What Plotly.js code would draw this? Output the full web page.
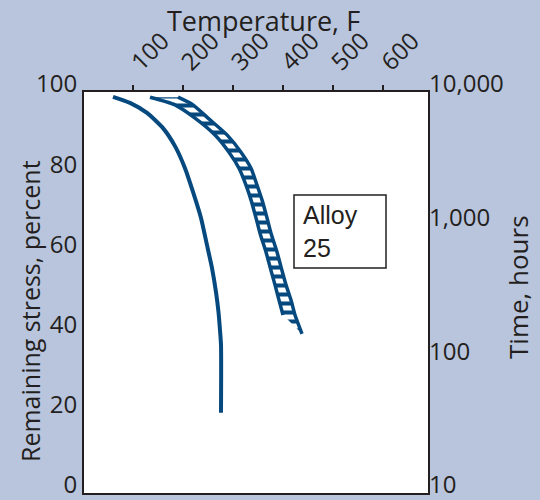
<!DOCTYPE html>
<html>
<head>
<meta charset="utf-8">
<script src="https://cdn.plot.ly/plotly-3.0.1.min.js"></script>
<style>html,body{margin:0;padding:0;background:#b9c5dc;}#chart{width:540px;height:500px;}</style>
</head>
<body>
<div id="chart"></div>
<script>
// Temperature (F) vs remaining stress (percent)
const curveTemp   = [60, 94, 128, 160, 184, 204, 220, 236, 248, 258, 266, 271, 274, 276, 276];
const curveStress = [98.8, 97.3, 94.8, 91.0, 86.5, 81.0, 75.1, 68.6, 61.8, 56.1, 50.1, 45.1, 40.6, 37.0, 20.0];

// Alloy 25 band: inner (left) edge and outer (right) edge
const innerTemp   = [134, 184, 224, 264, 292, 312, 326, 336, 346, 354, 366, 374, 384, 392, 400];
const innerStress = [98.7, 96.8, 93.5, 89.3, 85.0, 81.0, 76.8, 73.1, 68.6, 64.8, 60.1, 56.4, 51.9, 48.1, 44.4];
const outerTemp   = [190, 220, 250, 288, 316, 336, 348, 358, 368, 376, 388, 396, 406, 416, 424, 438];
const outerStress = [98.7, 96.8, 93.5, 89.3, 85.0, 81.0, 76.8, 73.1, 68.6, 64.8, 60.1, 56.4, 51.9, 48.1, 44.4, 39.7];

const tempTicks = [100, 200, 300, 400, 500, 600];
const stressTicks = [0, 20, 40, 60, 80, 100];
const timeTicks = [10, 100, 1000, 10000];
const timeTickText = ['10', '100', '1,000', '10,000'];

const navy = '#06497f';
const ink = '#231f20';
const font = 'Open Sans, Noto Sans, sans-serif';

const bandX = innerTemp.concat(outerTemp.slice().reverse());
const bandY = innerStress.concat(outerStress.slice().reverse());

const traces = [
  {x: bandX, y: bandY, mode: 'lines', fill: 'toself', line: {width: 0, color: navy},
   fillcolor: 'white',
   fillpattern: {shape: '-', fgcolor: navy, bgcolor: 'white', size: 9, solidity: 0.45},
   hoverinfo: 'skip', showlegend: false},
  {x: innerTemp, y: innerStress, mode: 'lines', line: {width: 3.5, color: navy, shape: 'spline', smoothing: 0.6}, showlegend: false},
  {x: outerTemp, y: outerStress, mode: 'lines', line: {width: 3.5, color: navy, shape: 'spline', smoothing: 0.6}, showlegend: false},
  {x: curveTemp, y: curveStress, mode: 'lines', line: {width: 4, color: navy, shape: 'spline', smoothing: 0.6}, showlegend: false},
  {x: [], y: [], yaxis: 'y2', mode: 'lines', showlegend: false}
];

const layout = {
  width: 540, height: 500,
  margin: {l: 84, r: 112, t: 92, b: 7},
  paper_bgcolor: '#b9c5dc',
  plot_bgcolor: 'white',
  showlegend: false,
  font: {family: font, color: ink},
  xaxis: {
    side: 'top', range: [2, 690], tickvals: tempTicks, tickangle: -45,
    ticks: 'outside', ticklen: 5, tickwidth: 1.5, tickcolor: ink,
    showline: true, mirror: true, linecolor: ink, linewidth: 2,
    showgrid: false, zeroline: false,
    tickfont: {size: 24, family: font, color: ink}
  },
  yaxis: {
    range: [0, 100], tickvals: stressTicks, ticks: '',
    showline: true, mirror: true, linecolor: ink, linewidth: 2,
    showgrid: false, zeroline: false, ticklabeloverflow: 'allow', ticklabelshift: -8,
    tickfont: {size: 24, family: font, color: ink}
  },
  yaxis2: {
    type: 'log', range: [1, 4], overlaying: 'y', side: 'right',
    tickvals: timeTicks, ticktext: timeTickText, ticks: '',
    showline: false, showgrid: false, zeroline: false, ticklabeloverflow: 'allow', ticklabelshift: -8,
    tickfont: {size: 24, family: font, color: ink}
  },
  shapes: [
    {type: 'rect', xref: 'x', yref: 'y', x0: 422, x1: 606, y0: 56.1, y1: 74.3,
     line: {color: ink, width: 1.5}, fillcolor: 'white'}
  ],
  annotations: [
    {text: 'Temperature, F', xref: 'paper', yref: 'paper', x: (263 - 84) / 344, y: (493 - 20) / 401,
     showarrow: false, xanchor: 'center', yanchor: 'middle', font: {size: 27, family: font, color: ink}},
    {text: 'Remaining stress, percent', xref: 'paper', yref: 'paper', x: (30 - 84) / 344, y: (493 - 311) / 401,
     textangle: -90, showarrow: false, xanchor: 'center', yanchor: 'middle', font: {size: 25, family: font, color: ink}},
    {text: 'Time, hours', xref: 'paper', yref: 'paper', x: (518 - 84) / 344, y: (493 - 287) / 401,
     textangle: -90, showarrow: false, xanchor: 'center', yanchor: 'middle', font: {size: 26, family: font, color: ink}},
    {text: 'Alloy<br>25', xref: 'x', yref: 'y', x: 436, y: 65.2, align: 'left',
     showarrow: false, xanchor: 'left', yanchor: 'middle', font: {size: 25, family: 'Liberation Sans, Arial, sans-serif', color: ink}}
  ]
};

Plotly.newPlot('chart', traces, layout, {staticPlot: true, displayModeBar: false});
</script>
</body>
</html>
